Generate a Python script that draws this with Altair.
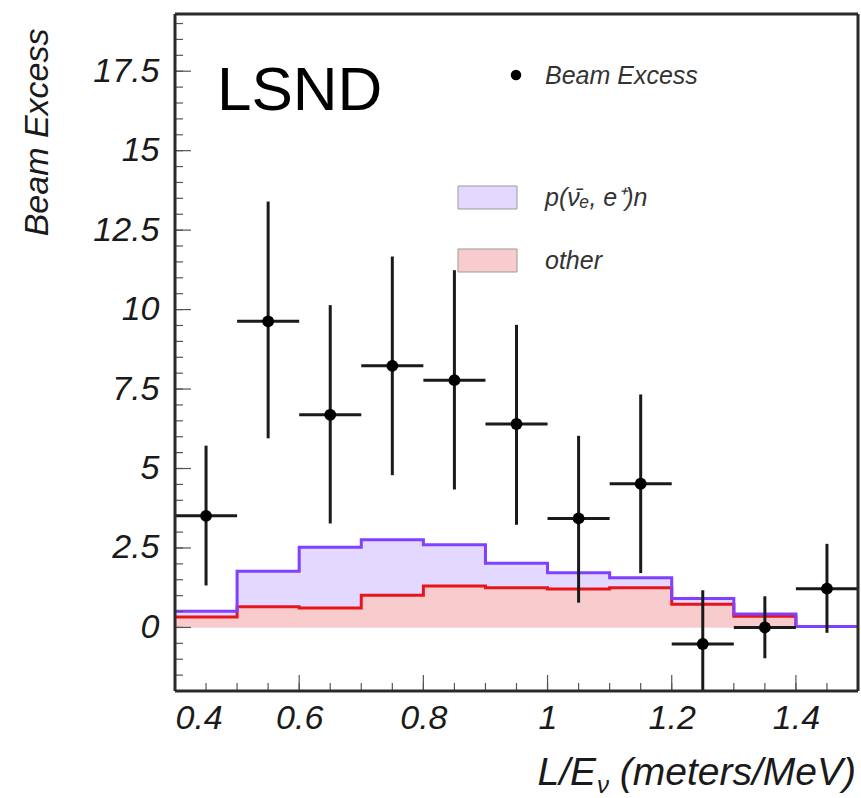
import altair as alt
import pandas as pd

# ---- data ----
x_centers = [0.45, 0.55, 0.65, 0.75, 0.85, 0.95, 1.05, 1.15, 1.25, 1.35, 1.45]
excess = [3.51, 9.63, 6.69, 8.23, 7.78, 6.40, 3.43, 4.52, -0.52, 0.00, 1.22]
err_hi = [5.72, 13.40, 10.14, 11.67, 11.24, 9.52, 6.03, 7.33, 1.17, 0.98, 2.63]
err_lo = [1.32, 5.95, 3.27, 4.79, 4.34, 3.23, 0.78, 1.71, -2.60, -0.97, -0.17]

bin_edges = [0.4, 0.5, 0.6, 0.7, 0.8, 0.9, 1.0, 1.1, 1.2, 1.3, 1.4, 1.5]
total_bkg = [0.51, 1.77, 2.52, 2.76, 2.60, 2.02, 1.72, 1.56, 0.91, 0.42, 0.03]
other_bkg = [0.33, 0.65, 0.61, 1.01, 1.30, 1.25, 1.21, 1.25, 0.73, 0.35, 0.0]

y_ticks = [0, 2.5, 5, 7.5, 10, 12.5, 15, 17.5]
x_ticks = [0.4, 0.6, 0.8, 1.0, 1.2, 1.4]
y_minor = [v / 2 for v in range(-3, 39)]
x_minor = [round(0.4 + 0.05 * i, 2) for i in range(1, 22)]

W, H = 683, 677
FONT = "Liberation Sans"
X_DOM = [0.4, 1.5]
Y_DOM = [-2.0, 19.3]

xs = alt.Scale(domain=X_DOM, nice=False, zero=False)
ys = alt.Scale(domain=Y_DOM, nice=False, zero=False)

pts = pd.DataFrame({"x": x_centers, "y": excess, "hi": err_hi, "lo": err_lo,
                    "xl": [c - 0.05 for c in x_centers], "xr": [c + 0.05 for c in x_centers]})

# step histograms (step-after needs a closing point at the last edge)
tot = pd.DataFrame({"x": bin_edges, "y": total_bkg + [total_bkg[-1]]})
oth_vals = other_bkg[:-1]
oth = pd.DataFrame({"x": bin_edges[:-1], "y": oth_vals + [0.0]})

base_x = alt.X("x:Q", scale=xs,
               axis=alt.Axis(values=x_ticks, title=None, grid=False, ticks=False, domain=False,
                             labelFont=FONT, labelFontStyle="italic", labelFontSize=34,
                             labelColor="#1a1a1a", labelPadding=10,
                             labelExpr="datum.value == 1 ? '1' : format(datum.value, '.1f')"))
base_y = alt.Y("y:Q", scale=ys,
               axis=alt.Axis(values=y_ticks, title="Beam Excess", grid=False, ticks=False, domain=False,
                             labelFont=FONT, labelFontStyle="italic", labelFontSize=34,
                             labelColor="#1a1a1a", labelPadding=16,
                             labelExpr="'' + datum.value",
                             titleFont=FONT, titleFontStyle="italic", titleFontWeight="normal",
                             titleFontSize=34, titleColor="#1a1a1a", titleAngle=270,
                             titleAlign="right", titleBaseline="alphabetic", titleX=-128, titleY=14))

area_tot = alt.Chart(tot).mark_area(interpolate="step-after", color="#e3d8ff", opacity=1).encode(
    x=base_x, y=base_y, y2=alt.datum(0))
area_oth = alt.Chart(oth).mark_area(interpolate="step-after", color="#f8cccc", opacity=1).encode(
    x=alt.X("x:Q", scale=xs), y=alt.Y("y:Q", scale=ys), y2=alt.datum(0))
line_oth = alt.Chart(oth).mark_line(interpolate="step-after", color="#e8141b", strokeWidth=3).encode(
    x=alt.X("x:Q", scale=xs), y=alt.Y("y:Q", scale=ys))
line_tot = alt.Chart(tot).mark_line(interpolate="step-after", color="#8040ff", strokeWidth=3).encode(
    x=alt.X("x:Q", scale=xs), y=alt.Y("y:Q", scale=ys))

# inner ticks
ymin_df = pd.DataFrame({"y": y_minor})
ymaj_df = pd.DataFrame({"y": y_ticks})
xmin_df = pd.DataFrame({"x": x_minor})
xmaj_df = pd.DataFrame({"x": x_ticks})
tick_col = "#555"
t1 = alt.Chart(ymin_df).mark_rule(color=tick_col, strokeWidth=1.2).encode(
    y=alt.Y("y:Q", scale=ys), x=alt.value(0), x2=alt.value(8))
t2 = alt.Chart(ymaj_df).mark_rule(color=tick_col, strokeWidth=1.2).encode(
    y=alt.Y("y:Q", scale=ys), x=alt.value(0), x2=alt.value(16))
t3 = alt.Chart(xmin_df).mark_rule(color=tick_col, strokeWidth=1.2).encode(
    x=alt.X("x:Q", scale=xs), y=alt.value(H), y2=alt.value(H - 8))
t4 = alt.Chart(xmaj_df).mark_rule(color=tick_col, strokeWidth=1.2).encode(
    x=alt.X("x:Q", scale=xs), y=alt.value(H), y2=alt.value(H - 16))

# data points with error bars
ebar_v = alt.Chart(pts).mark_rule(color="#1a1a1a", strokeWidth=3, clip=True).encode(
    x=alt.X("x:Q", scale=xs), y=alt.Y("lo:Q", scale=ys), y2="hi:Q")
ebar_h = alt.Chart(pts).mark_rule(color="#1a1a1a", strokeWidth=3, clip=True).encode(
    x=alt.X("xl:Q", scale=xs), x2="xr:Q", y=alt.Y("y:Q", scale=ys))
dots = alt.Chart(pts).mark_circle(color="black", size=140, opacity=1).encode(
    x=alt.X("x:Q", scale=xs), y=alt.Y("y:Q", scale=ys))

# frame, annotations and legend
one = pd.DataFrame({"a": [0]})
FR = "#2a2a2a"
fr_top = alt.Chart(one).mark_rule(color=FR, strokeWidth=3).encode(
    x=alt.value(0), x2=alt.value(W), y=alt.value(0))
fr_bot = alt.Chart(one).mark_rule(color=FR, strokeWidth=3).encode(
    x=alt.value(0), x2=alt.value(W), y=alt.value(H))
fr_left = alt.Chart(one).mark_rule(color=FR, strokeWidth=3).encode(
    x=alt.value(0), y=alt.value(0), y2=alt.value(H))
fr_right = alt.Chart(one).mark_rule(color=FR, strokeWidth=3).encode(
    x=alt.value(W), y=alt.value(0), y2=alt.value(H))

lsnd = alt.Chart(one).mark_text(text="LSND", font=FONT, fontSize=62, color="black",
                                align="left", baseline="alphabetic").encode(
    x=alt.value(42), y=alt.value(96))
leg_dot = alt.Chart(one).mark_circle(color="black", size=110, opacity=1).encode(
    x=alt.value(341), y=alt.value(61))
leg_t1 = alt.Chart(one).mark_text(text="Beam Excess", font=FONT, fontStyle="italic", fontSize=25,
                                  color="#333", align="left", baseline="alphabetic").encode(
    x=alt.value(370), y=alt.value(70))
leg_box1 = alt.Chart(one).mark_rect(color="#e3d8ff", stroke="#999", strokeWidth=1).encode(
    x=alt.value(283), x2=alt.value(342), y=alt.value(172), y2=alt.value(195))
leg_t2 = alt.Chart(one).mark_text(text="p(ν̄ₑ, e⁺)n", font=FONT, fontStyle="italic", fontSize=25,
                                  color="#333", align="left", baseline="alphabetic").encode(
    x=alt.value(370), y=alt.value(192))
leg_box2 = alt.Chart(one).mark_rect(color="#f8cccc", stroke="#999", strokeWidth=1).encode(
    x=alt.value(283), x2=alt.value(342), y=alt.value(235), y2=alt.value(258))
leg_t3 = alt.Chart(one).mark_text(text="other", font=FONT, fontStyle="italic", fontSize=25,
                                  color="#333", align="left", baseline="alphabetic").encode(
    x=alt.value(370), y=alt.value(255))

xt1 = alt.Chart(one).mark_text(text="(meters/MeV)", font=FONT, fontStyle="italic", fontSize=39,
                               color="#1a1a1a", align="right", baseline="alphabetic").encode(
    x=alt.value(681), y=alt.value(771))
xt2 = alt.Chart(one).mark_text(text="ν", font=FONT, fontStyle="italic", fontSize=24,
                               color="#1a1a1a", align="left", baseline="alphabetic").encode(
    x=alt.value(422), y=alt.value(779))
xt3 = alt.Chart(one).mark_text(text="L/E", font=FONT, fontStyle="italic", fontSize=39,
                               color="#1a1a1a", align="right", baseline="alphabetic").encode(
    x=alt.value(421), y=alt.value(771))

chart = alt.layer(
    area_tot, area_oth, line_oth, line_tot,
    t1, t2, t3, t4,
    ebar_v, ebar_h, dots,
    lsnd, leg_dot, leg_t1, leg_box1, leg_t2, leg_box2, leg_t3,
    xt1, xt2, xt3, fr_top, fr_bot, fr_left, fr_right,
).properties(
    width=W, height=H,
    background="white",
    autosize=alt.AutoSizeParams(type="none"),
    padding={"left": 175, "top": 14, "right": 3, "bottom": 107},
).configure_view(stroke=None)

chart.save("out.html", embed_options={"renderer": "svg", "actions": False})
